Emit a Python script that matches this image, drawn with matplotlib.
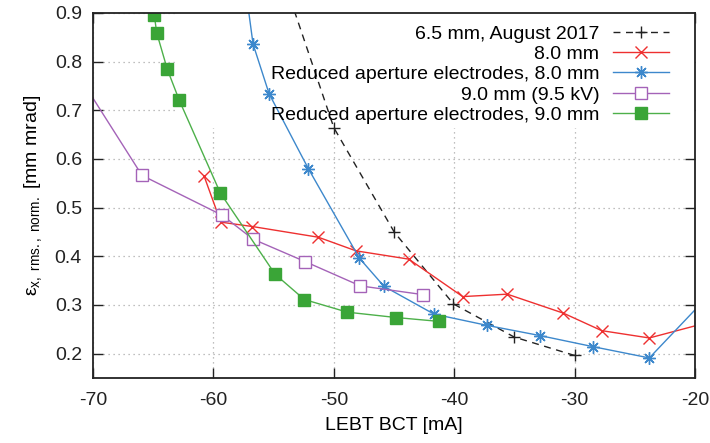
import matplotlib

matplotlib.use("Agg")
import matplotlib.pyplot as plt
from matplotlib.patches import Rectangle

plt.rcParams["font.family"] = ["Liberation Sans", "DejaVu Sans"]
plt.rcParams["mathtext.fontset"] = "custom"
plt.rcParams["mathtext.rm"] = "Liberation Sans"
plt.rcParams["mathtext.it"] = "Liberation Sans:italic"
plt.rcParams["axes.unicode_minus"] = False

# Dados (LEBT BCT [mA], emitância [mm mrad])
bct_65 = [-55.0, -50.0, -44.97, -40.07, -35.03, -30.0]
emit_65 = [1.03, 0.664, 0.449, 0.302, 0.234, 0.196]

bct_80 = [-60.78, -59.39, -56.77, -51.29, -48.16, -43.78, -39.3, -35.6, -30.94, -27.75, -23.8, -18.0]
emit_80 = [0.565, 0.470, 0.461, 0.439, 0.411, 0.394, 0.317, 0.322, 0.283, 0.247, 0.232, 0.270]

bct_red_80 = [-57.6, -56.71, -55.38, -52.12, -47.88, -45.83, -41.68, -37.3, -32.9, -28.45, -23.8, -18.0]
emit_red_80 = [1.00, 0.836, 0.734, 0.580, 0.396, 0.338, 0.281, 0.258, 0.237, 0.214, 0.191, 0.342]

bct_90 = [-71.5, -65.93, -59.26, -56.71, -52.39, -47.8, -42.59]
emit_90 = [0.783, 0.566, 0.484, 0.435, 0.389, 0.339, 0.321]

bct_red_90 = [-64.91, -64.71, -63.83, -62.83, -59.43, -54.88, -52.45, -48.88, -44.83, -41.24]
emit_red_90 = [0.895, 0.859, 0.784, 0.720, 0.530, 0.363, 0.311, 0.285, 0.274, 0.266]

labels = [
    "6.5 mm, August 2017",
    "8.0 mm",
    "Reduced aperture electrodes, 8.0 mm",
    "9.0 mm (9.5 kV)",
    "Reduced aperture electrodes, 9.0 mm",
]

fig = plt.figure(figsize=(7.1, 4.43), dpi=100)
ax = fig.add_axes([0.131, 0.147, 0.848, 0.824])

lw = 1.0
ax.plot(bct_65, emit_65, color="#222222", lw=lw, dashes=(5, 4), marker="+", ms=9, mew=1.0, label=labels[0])
ax.plot(bct_80, emit_80, color="#ee3030", lw=lw, marker="x", ms=8, mew=1.0, label=labels[1])
ax.plot(bct_red_80, emit_red_80, color="#3d88cc", lw=lw, marker=(8, 2, 0), ms=9, mew=1.0, label=labels[2])
ax.plot(bct_90, emit_90, color="#a463b8", lw=lw, marker="s", ms=8, mfc="white", mew=1.0, label=labels[3])
ax.plot(bct_red_90, emit_red_90, color="#4db04a", lw=lw, marker="s", ms=8, mfc="#3aa537", mec="#3aa537",
        label=labels[4])

ax.set_xlim(-70, -20)
ax.set_ylim(0.15, 0.9)
ax.set_xticks(range(-70, -19, 10))
ax.set_yticks([0.2, 0.3, 0.4, 0.5, 0.6, 0.7, 0.8, 0.9])

ax.set_axisbelow(True)
ax.grid(True, color="#aaaaaa", linestyle=(0, (1, 3)), linewidth=0.9)

# Caixa da legenda opaca (esconde a grade)
ax.add_patch(Rectangle((0.14, 0.685), 0.86, 0.315, transform=ax.transAxes, facecolor="white",
                       edgecolor="none", zorder=1))

for s in ax.spines.values():
    s.set_linewidth(1.3)
    s.set_color("#222222")
ax.tick_params(direction="in", length=7, width=1.0, top=True, right=True, labelsize=14, colors="#222222")
ax.tick_params(axis="y", pad=8)
ax.tick_params(axis="x", pad=10)

ax.set_xlabel("LEBT BCT [mA]", fontsize=14, labelpad=6)
ax.set_ylabel(r"ε$_{\mathrm{x,\ rms.,\ norm.}}$ [mm mrad]", fontsize=14, labelpad=8)

leg = ax.legend(loc="upper right", bbox_to_anchor=(0.957, 0.967), frameon=False, markerfirst=False,
                fontsize=14, handlelength=2.9, handletextpad=0.7, labelspacing=0.14, borderpad=0,
                borderaxespad=0)
for col in leg._legend_handle_box.get_children():
    col.align = "right"

plt.savefig("out.png", dpi=100)
